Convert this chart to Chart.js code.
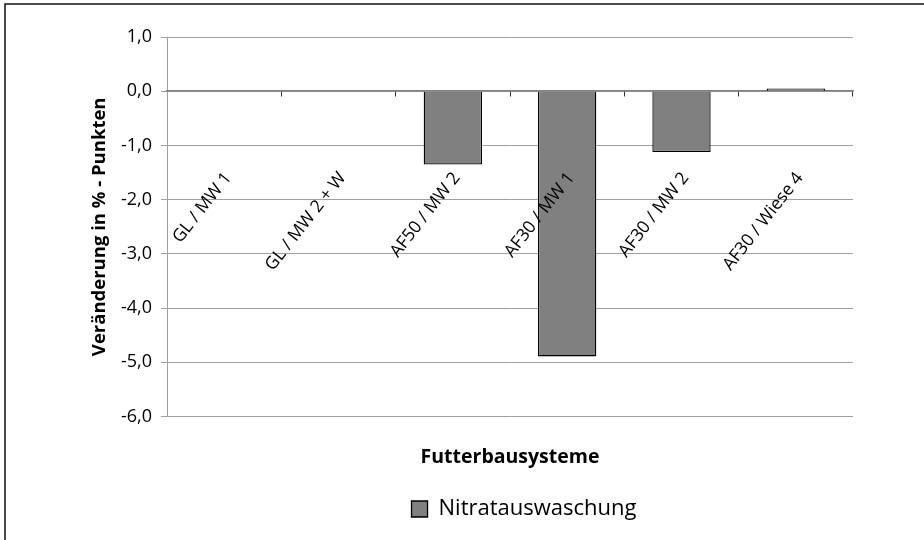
<!DOCTYPE html>
<html>
<head>
<meta charset="utf-8">
<script src="https://cdn.jsdelivr.net/npm/chart.js@4/dist/chart.umd.min.js"></script>
<style>
    html, body { margin: 0; padding: 0; background: #fff; }
    #wrap { width: 924px; height: 540px; }
</style>
</head>
<body>
<div id="wrap"><canvas id="nitratChart" width="924" height="540"></canvas></div>
<script>
const categories = ['GL / MW 1', 'GL / MW 2 + W', 'AF50 / MW 2', 'AF30 / MW 1', 'AF30 / MW 2', 'AF30 / Wiese 4'];
const nitratValues = [0, 0, -1.35, -4.89, -1.12, 0.05];
const seriesName = 'Nitratauswaschung';
const yTitle = 'Veränderung in % - Punkten';
const xTitle = 'Futterbausysteme';

Chart.defaults.font.family = '"Open Sans", sans-serif';
Chart.defaults.color = '#000';

// outer frame (only top and left edges are visible in the picture)
const framePlugin = {
    id: 'frame',
    beforeDraw(chart) {
        const c = chart.ctx;
        c.save();
        c.fillStyle = '#fff';
        c.fillRect(0, 0, chart.width, chart.height);
        c.strokeStyle = '#111';
        c.lineWidth = 1.5;
        c.beginPath();
        c.moveTo(5, chart.height);
        c.lineTo(5, 4);
        c.lineTo(chart.width, 4);
        c.stroke();
        c.restore();
    },
    // legend sits a little right of the plot centre in the original
    afterLayout(chart) {
        if (chart.legend) {
            chart.legend.left += 14;
            chart.legend.right += 14;
        }
    }
};

const ctx = document.getElementById('nitratChart').getContext('2d');

const chart = new Chart(ctx, {
    type: 'bar',
    data: {
        labels: categories,
        datasets: [
            {
                label: seriesName,
                data: nitratValues,
                backgroundColor: '#808080',
                borderColor: '#000',
                borderWidth: 1.3,
                barPercentage: 0.51,
                categoryPercentage: 1
            }
        ]
    },
    options: {
        responsive: false,
        animation: false,
        layout: {
            padding: { left: 0, top: 37, right: 71, bottom: 10 }
        },
        scales: {
            y: {
                min: -6,
                max: 1,
                afterFit: function (scale) {
                    scale.width = 167;
                },
                ticks: {
                    stepSize: 1,
                    padding: 9,
                    font: { size: 18 },
                    callback: (v) => v.toFixed(1).replace('.', ',')
                },
                grid: {
                    color: '#a0a0a0',
                    tickLength: 6
                },
                border: { color: '#a0a0a0' },
                title: {
                    display: true,
                    text: yTitle,
                    font: { size: 18.5, weight: 'bold' },
                    padding: { top: 89, bottom: 0 }
                }
            },
            x: {
                grid: { display: false, drawTicks: false },
                border: { display: false },
                ticks: { display: false },
                title: {
                    display: true,
                    text: xTitle,
                    font: { size: 19.5, weight: 'bold' },
                    padding: { top: 29, bottom: 19 }
                }
            },
            // category axis sitting on the zero line, carries the tilted labels
            x2: {
                type: 'category',
                axis: 'x',
                position: { y: 0 },
                labels: categories,
                offset: true,
                grid: {
                    offset: true,
                    drawOnChartArea: false,
                    drawTicks: true,
                    tickLength: 5,
                    color: '#303030'
                },
                border: { color: '#808080', width: 1.5 },
                ticks: {
                    z: 1,
                    autoSkip: false,
                    minRotation: 52,
                    maxRotation: 52,
                    padding: 72,
                    labelOffset: 4,
                    font: { size: 17.5 }
                }
            }
        },
        plugins: {
            legend: {
                position: 'bottom',
                fullSize: false,
                labels: {
                    boxWidth: 16,
                    boxHeight: 16,
                    padding: 10,
                    font: { size: 22 },
                    color: '#000'
                }
            },
            tooltip: { enabled: false }
        }
    },
    plugins: [framePlugin]
});
</script>
</body>
</html>
